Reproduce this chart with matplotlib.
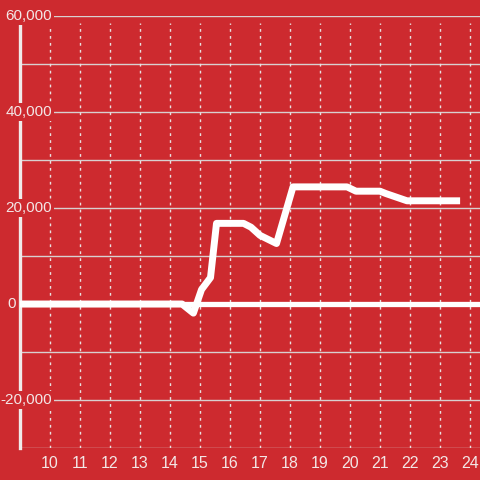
import matplotlib
matplotlib.use("Agg")
from matplotlib import pyplot as plt
import numpy as np

# data
hours = [9.0, 14.4, 14.78, 15.05, 15.35, 15.55, 16.45, 16.7, 17.0, 17.55, 18.1,
         19.9, 20.2, 21.0, 21.2, 21.9, 23.67]
values = [0, 0, -1900, 3000, 5500, 16800, 16800, 16000, 14300, 12600, 24400,
          24400, 23500, 23500, 23000, 21500, 21500]
x_ticks = list(range(10, 25))
y_labels = [60000, 40000, 20000, 0, -20000]

bg = "#cd2a2f"
fg = "#f3e6e6"

plt.rcParams['font.family'] = ['Liberation Sans', 'DejaVu Sans']

fig = plt.figure(figsize=(4.8, 4.8), dpi=100)
fig.patch.set_facecolor(bg)
ax = fig.add_axes([20/480, 32/480, 460/480, 432/480])
ax.set_facecolor(bg)
ax.set_xlim(9, 24.333)
ax.set_ylim(-30000, 60000)

# grid
for yv in range(-30000, 60001, 10000):
    ax.axhline(yv, color="#d8d0d0", lw=1, zorder=1)
for xv in x_ticks:
    ax.axvline(xv, ymin=0, ymax=(448-23)/432, color="#e8e0e0", lw=1,
               ls=(0, (2, 3)), zorder=1)

# zero line and left spine
ax.axhline(0, color="white", lw=3.8, zorder=3)
ax.axvline(9.0, ymin=0, ymax=(448-24)/432, color="#f0eaea", lw=2.4, zorder=2,
           clip_on=False)

ax.plot(hours, values, color="white", lw=5, zorder=4, solid_joinstyle="round",
        solid_capstyle="butt")

for sp in ax.spines.values():
    sp.set_visible(False)
ax.set_yticks([])
ax.set_xticks(x_ticks)
ax.set_xticklabels([str(t) for t in x_ticks])
ax.tick_params(axis="x", length=0, colors=fg, labelsize=11.5, pad=6)

for yv in y_labels:
    if yv == 0:
        xpos = 16
    else:
        xpos = 52
    ax.text((xpos - 20) / 460, yv, f"{yv:,}", transform=ax.get_yaxis_transform(),
            ha="right", va="center", color=fg, fontsize=11, zorder=5,
            bbox=dict(facecolor=bg, edgecolor="none", pad=1.5))

fig.savefig("out.png", dpi=100, facecolor=bg)
